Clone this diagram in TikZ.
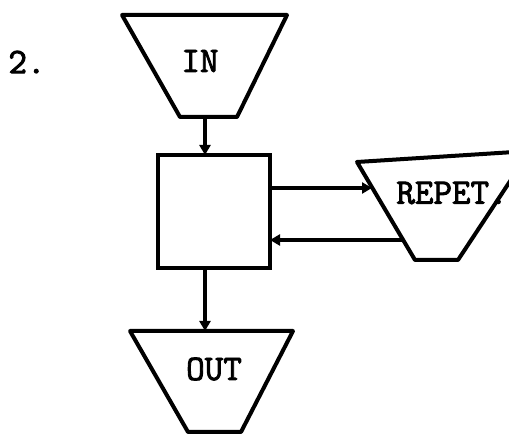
\documentclass[tikz,border=0pt]{standalone}
\usepackage{fontspec}
\newfontfamily\typefont[FakeBold=2.5]{Latin Modern Mono}
\usetikzlibrary{arrows.meta}
\tikzset{
  outline/.style={line width=4pt, line join=round, line cap=round},
  flow/.style={line width=3.5pt, -{Triangle[length=10pt,width=11pt]}},
  label/.style={font=\typefont\fontsize{36}{38}\selectfont, inner sep=0pt}
}
\begin{document}
\begin{tikzpicture}[x=1pt,y=-1pt]
  \useasboundingbox (0,0) rectangle (509,435);
  \clip (0,0) rectangle (509,435);

  % item number
  \node[label] (num) at (27,62) {2.};

  % IN hopper
  \draw[outline] (122,15) -- (287,15) -- (237,117) -- (180,117) -- cycle;
  \node[label] (in) at (200,61) {IN};
  \coordinate (inOut) at (205,117);

  % processing box
  \node[draw, line width=4pt, minimum width=112pt, minimum height=113pt,
        inner sep=0pt] (box) at (214,211.5) {};
  \coordinate (boxIn)   at (205,155);
  \coordinate (boxOut)  at (205,268);
  \coordinate (boxSend) at (270,188);
  \coordinate (boxBack) at (270,240);

  % REPET hopper (runs past the right edge)
  \draw[outline] (357,162) -- (530,151) -- (458,260) -- (415,260) -- cycle;
  \node[label] (repet) at (452,193) {REPET.};
  \coordinate (repIn)  at (372,188);
  \coordinate (repOut) at (403,240);

  % OUT hopper
  \draw[outline] (130,331) -- (293,331) -- (241,432) -- (188,432) -- cycle;
  \node[label] (out) at (214,369) {OUT};
  \coordinate (outIn) at (205,331);

  % connectors
  \draw[flow] (inOut) -- (boxIn);
  \draw[flow] (boxSend) -- (repIn);
  \draw[flow] (repOut) -- (boxBack);
  \draw[flow] (boxOut) -- (outIn);
\end{tikzpicture}
\end{document}
